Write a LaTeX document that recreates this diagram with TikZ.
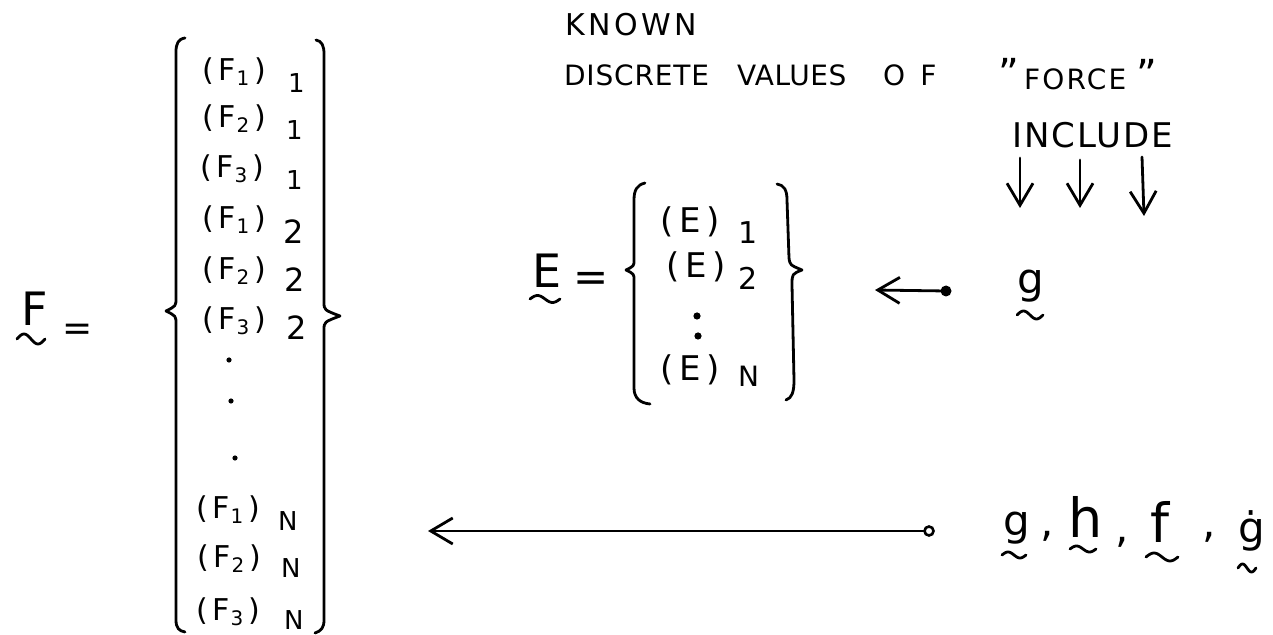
\documentclass[tikz,border=0pt]{standalone}
\usepackage{fontspec}
\setmainfont{DejaVu Sans}
\usetikzlibrary{arrows.meta}
\newcommand{\fsz}[1]{\fontsize{#1}{#1}\selectfont}
% #1 inner sub, #2 outer sub, #3 lowering, #4 box width, #5 outer font size
\newcommand{\fentry}[5]{\makebox[#4][l]{(\hspace{2.5pt}F\hspace{0.3pt}\raisebox{-2.5pt}{\fsz{10}#1}\hspace{2.5pt})}\raisebox{-#3}{\fsz{#5}#2}}
% #1 sub, #2 lowering, #3 box width, #4 sub font size
\newcommand{\eentry}[4]{\makebox[#3][l]{(\hspace{3pt}E\hspace{3pt})}\raisebox{-#2}{\fsz{#4}#1}}
\begin{document}
\begin{tikzpicture}[x=0.5pt,y=-0.5pt,
  lbl/.style={inner sep=0pt,outer sep=0pt,anchor=base west},
  stroke/.style={line width=1.4pt,line cap=round,line join=round},
  arr/.style={stroke,-{Straight Barb[length=11pt,width=13pt]}},
  fdot/.style={circle,fill=black,inner sep=0pt,outer sep=0pt,minimum size=#1},
  pics/utilde/.style={code={\draw[stroke] plot[domain=-1:1,samples=31,smooth] (\x,{sin(\x*180)});}}]
\useasboundingbox (0,0) rectangle (1273,635);

% ---- F vector ----
\node[lbl,font=\fsz{23}] (F) at (21,326) {F};
\pic[xscale=14,yscale=5] at (31,339) {utilde};
\node[inner sep=0pt,font=\fsz{18}] (Feq) at (78,332) {=};

\draw[stroke] (185,38) .. controls (178,39) and (176,44) .. (176,52) -- (176,298)
  .. controls (176,306) .. (166,311) .. controls (176,316) .. (176,324) -- (176,620)
  .. controls (176,628) and (179,631) .. (185,632);
\draw[stroke] (316,40) .. controls (322,41) and (324,46) .. (324,54) -- (324,302)
  .. controls (324,310) .. (340,316) .. controls (324,322) .. (324,330) -- (324,620)
  .. controls (324,628) and (321,631) .. (315,633);

\node[lbl,font=\fsz{15}] (f11) at (202,81)  {\fentry{1}{1}{6pt}{43pt}{13}};
\node[lbl,font=\fsz{15}] (f21) at (202,128) {\fentry{2}{1}{6pt}{42pt}{13}};
\node[lbl,font=\fsz{15}] (f31) at (200,178) {\fentry{3}{1}{6pt}{43pt}{13}};
\node[lbl,font=\fsz{15}] (f12) at (202,229) {\fentry{1}{2}{7.5pt}{40.5pt}{16}};
\node[lbl,font=\fsz{15}] (f22) at (202,280) {\fentry{2}{2}{6pt}{41pt}{16}};
\node[lbl,font=\fsz{15}] (f32) at (202,330) {\fentry{3}{2}{5pt}{42pt}{16}};
\node[fdot=2.6pt] (fd1) at (229,360) {};
\node[fdot=2.6pt] (fd2) at (231,401) {};
\node[fdot=2.6pt] (fd3) at (235,458) {};
\node[lbl,font=\fsz{15}] (f1N) at (196,518) {\fentry{1}{N}{6pt}{41pt}{13}};
\node[lbl,font=\fsz{15}] (f2N) at (197,567) {\fentry{2}{N}{5.5pt}{42pt}{13}};
\node[lbl,font=\fsz{15}] (f3N) at (196,620) {\fentry{3}{N}{4.5pt}{44pt}{13}};

% ---- header text ----
\node[lbl,font=\fsz{15}\addfontfeatures{LetterSpace=12}] (known) at (565,36) {KNOWN};
\node[lbl,font=\fsz{14}\addfontfeatures{LetterSpace=3}] (discrete) at (564,86) {DISCRETE};
\node[lbl,font=\fsz{14}\addfontfeatures{LetterSpace=2}] (values) at (737,86) {VALUES};
\node[lbl,font=\fsz{14}\addfontfeatures{LetterSpace=55}] (of) at (883,86) {OF};
\node[inner sep=0pt,anchor=north west,font=\fsz{20}] (q1) at (998,58) {"};
\node[lbl,font=\fsz{14}\addfontfeatures{LetterSpace=8}] (force) at (1024,90) {FORCE};
\node[inner sep=0pt,anchor=north west,font=\fsz{20}] (q2) at (1136,59) {"};
\node[lbl,font=\fsz{17}\addfontfeatures{LetterSpace=6}] (include) at (1012,148) {INCLUDE};

\coordinate (i1s) at (1020,158); \coordinate (i1e) at (1020,208);
\coordinate (i2s) at (1080,160); \coordinate (i2e) at (1080,208);
\coordinate (i3s) at (1142,157); \coordinate (i3e) at (1144,216);
\draw[arr] (i1s) -- (i1e);
\draw[arr] (i2s) -- (i2e);
\draw[arr] (i3s) -- (i3e);

% ---- E vector ----
\node[lbl,font=\fsz{23}] (E) at (532,288) {E};
\pic[xscale=15,yscale=3.5] at (545,299) {utilde};
\node[inner sep=0pt,font=\fsz{21}] (Eeq) at (591,282) {=};

\draw[stroke] (645,183) .. controls (637,185) and (634,190) .. (634,200) -- (634,260)
  .. controls (634,266) .. (626,270) .. controls (634,274) .. (634,280) -- (634,388)
  .. controls (634,398) and (640,403) .. (650,404);
\draw[stroke] (777,184) .. controls (784,185) and (787,190) .. (787,200) -- (789,258)
  .. controls (790,265) .. (802,270) .. controls (792,274) .. (792,285) -- (794,380)
  .. controls (794,392) and (792,398) .. (786,400);

\node[lbl,font=\fsz{17}] (e1) at (660,233) {\eentry{1}{5.5pt}{39pt}{15}};
\node[lbl,font=\fsz{17}] (e2) at (666,278) {\eentry{2}{6pt}{36pt}{15}};
\node[fdot=3.6pt] (ed1) at (697,316) {};
\node[fdot=3.6pt] (ed2) at (698,336) {};
\node[lbl,font=\fsz{17}] (eN) at (660,381) {\eentry{N}{3pt}{39pt}{14}};

% ---- g -> E ----
\node[fdot=5.5pt] (gdot) at (946,291) {};
\coordinate (etip) at (875,290);
\draw[arr] (gdot) -- (etip);
\node[lbl,font=\fsz{21}] (eg) at (1017,294) {g};
\pic[xscale=13,yscale=4] at (1030,315) {utilde};

% ---- g,h,f,gdot -> F ----
\node[circle,draw,line width=1.3pt,inner sep=0pt,minimum size=4.5pt] (circ) at (929,531) {};
\coordinate (ftip) at (428,531);
\draw[arr] (circ) -- (ftip);

\node[lbl,font=\fsz{21}] (bg) at (1003,535) {g};
\pic[xscale=12,yscale=3] at (1014,555) {utilde};
\node[lbl,font=\fsz{21}] (cm1) at (1040,537) {,};
\node[lbl,font=\fsz{27}] (bh) at (1068,538) {h};
\pic[xscale=13,yscale=3] at (1083,549) {utilde};
\node[lbl,font=\fsz{21}] (cm2) at (1115,542) {,};
\node[lbl,font=\fsz{27}] (bf) at (1150,542) {f};
\pic[xscale=16,yscale=4] at (1162,557) {utilde};
\node[lbl,font=\fsz{21}] (cm3) at (1202,538) {,};
\node[lbl,font=\fsz{21}] (bgd) at (1238,542) {ġ};
\pic[xscale=9,yscale=4] at (1247,568) {utilde};
\end{tikzpicture}
\end{document}
